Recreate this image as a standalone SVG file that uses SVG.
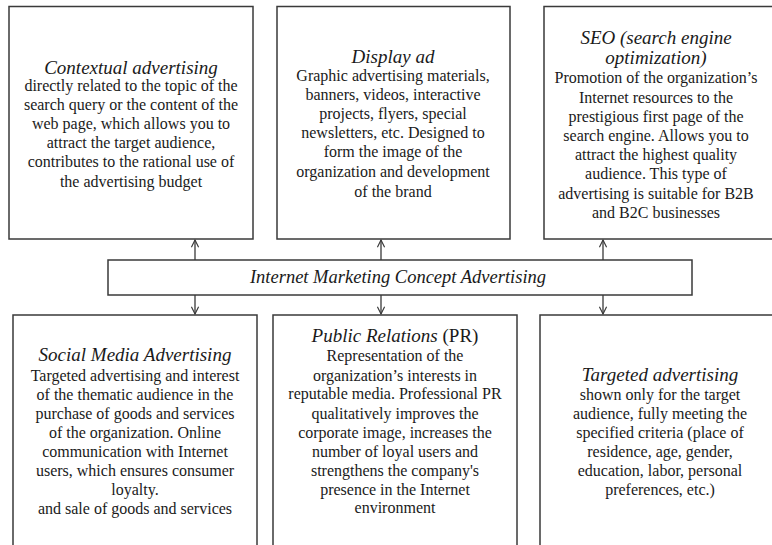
<svg xmlns="http://www.w3.org/2000/svg" width="772" height="545" viewBox="0 0 772 545">
<style>
.box{fill:#fff;stroke:#3a3a3a;stroke-width:1.5}
.t{font-family:"Liberation Serif","Times New Roman",serif;font-size:16px;fill:#1a1a1a;text-anchor:middle}
.h{font-family:"Liberation Serif","Times New Roman",serif;font-size:19px;font-style:italic;fill:#1a1a1a;text-anchor:middle}
.c{stroke:#3a3a3a;stroke-width:1.3;fill:none}
</style>
<defs>
<marker id="ah" viewBox="0 0 10 10" refX="9" refY="5" markerWidth="9" markerHeight="9" markerUnits="userSpaceOnUse" orient="auto">
<path d="M1,1 L9,5 L1,9" fill="none" stroke="#3a3a3a" stroke-width="1.3"/>
</marker>
</defs>
<rect width="772" height="545" fill="#fff"/>
<g id="connectors">
<line class="c" x1="195" y1="260" x2="195" y2="240" marker-end="url(#ah)"/>
<line class="c" x1="381" y1="260" x2="381" y2="240" marker-end="url(#ah)"/>
<line class="c" x1="603" y1="260" x2="603" y2="240" marker-end="url(#ah)"/>
<line class="c" x1="195" y1="295" x2="195" y2="314" marker-end="url(#ah)"/>
<line class="c" x1="381" y1="295" x2="381" y2="314" marker-end="url(#ah)"/>
<line class="c" x1="603" y1="295" x2="603" y2="314" marker-end="url(#ah)"/>
</g>
<g id="contextual">
<rect class="box" x="9" y="6.5" width="244" height="232.5"/>
<text class="h" x="131" y="74">Contextual advertising</text>
<text class="t" x="131" y="91">directly related to the topic of the</text>
<text class="t" x="131" y="110">search query or the content of the</text>
<text class="t" x="131" y="129">web page, which allows you to</text>
<text class="t" x="131" y="148">attract the target audience,</text>
<text class="t" x="131" y="167">contributes to the rational use of</text>
<text class="t" x="131" y="187">the advertising budget</text>
</g>
<g id="display">
<rect class="box" x="277" y="6.5" width="233" height="232.5"/>
<text class="h" x="393" y="63">Display ad</text>
<text class="t" x="393" y="81">Graphic advertising  materials,</text>
<text class="t" x="393" y="100">banners, videos, interactive</text>
<text class="t" x="393" y="119">projects, flyers, special</text>
<text class="t" x="393" y="138">newsletters, etc. Designed to</text>
<text class="t" x="393" y="157">form the image of the</text>
<text class="t" x="393" y="177">organization and development</text>
<text class="t" x="393" y="197">of the brand</text>
</g>
<g id="seo">
<rect class="box" x="544" y="6.5" width="240" height="232.5"/>
<text class="h" x="656" y="44">SEO (search engine</text>
<text class="h" x="656" y="64">optimization)</text>
<text class="t" x="656" y="83">Promotion of the organization’s</text>
<text class="t" x="656" y="103">Internet resources to the</text>
<text class="t" x="656" y="122">prestigious first page of the</text>
<text class="t" x="656" y="141">search engine. Allows you to</text>
<text class="t" x="656" y="160">attract the highest quality</text>
<text class="t" x="656" y="179">audience. This type of</text>
<text class="t" x="656" y="199">advertising is suitable for B2B</text>
<text class="t" x="656" y="218">and B2C businesses</text>
</g>
<g id="concept">
<rect class="box" x="108" y="260" width="584" height="35"/>
<text class="h" x="398" y="283" style="font-size:18.5px">Internet Marketing Concept Advertising</text>
</g>
<g id="social">
<rect class="box" x="13" y="315" width="244" height="240"/>
<text class="h" x="135" y="361">Social Media Advertising</text>
<text class="t" x="135" y="381">Targeted advertising  and interest</text>
<text class="t" x="135" y="400">of the thematic audience in the</text>
<text class="t" x="135" y="419">purchase of goods and services</text>
<text class="t" x="135" y="438">of the organization. Online</text>
<text class="t" x="135" y="457">communication with Internet</text>
<text class="t" x="135" y="476">users, which ensures consumer</text>
<text class="t" x="135" y="495">loyalty.</text>
<text class="t" x="135" y="514">and sale of goods and services</text>
</g>
<g id="pr">
<rect class="box" x="273" y="315" width="244" height="240"/>
<text class="h" x="395" y="342">Public Relations <tspan style="font-style:normal">(PR)</tspan></text>
<text class="t" x="395" y="361">Representation of the</text>
<text class="t" x="395" y="381">organization’s interests in</text>
<text class="t" x="395" y="399">reputable media. Professional PR</text>
<text class="t" x="395" y="419">qualitatively improves the</text>
<text class="t" x="395" y="438">corporate image, increases the</text>
<text class="t" x="395" y="457">number of loyal users and</text>
<text class="t" x="395" y="476">strengthens the company's</text>
<text class="t" x="395" y="495">presence in the Internet</text>
<text class="t" x="395" y="513">environment</text>
</g>
<g id="targeted">
<rect class="box" x="540" y="315" width="250" height="240"/>
<text class="h" x="660" y="381">Targeted advertising</text>
<text class="t" x="660" y="400">shown only for the target</text>
<text class="t" x="660" y="419">audience, fully meeting  the</text>
<text class="t" x="660" y="438">specified criteria (place of</text>
<text class="t" x="660" y="457">residence, age, gender,</text>
<text class="t" x="660" y="476">education, labor, personal</text>
<text class="t" x="660" y="495">preferences, etc.)</text>
</g>
</svg>
